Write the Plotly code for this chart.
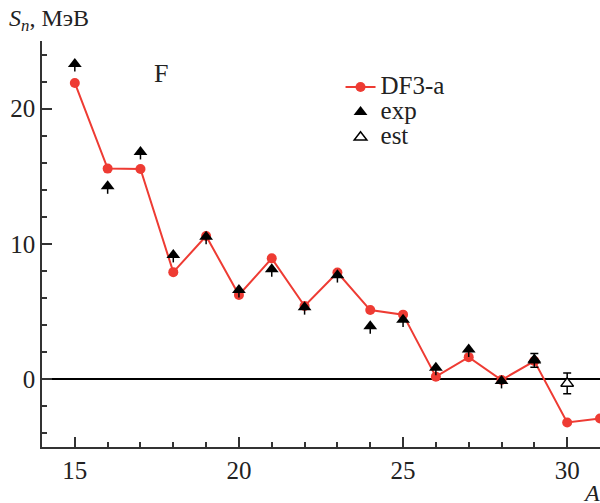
import plotly.graph_objects as go

# Data
A_calc = [15, 16, 17, 18, 19, 20, 21, 22, 23, 24, 25, 26, 27, 28, 29, 30, 31]
Sn_df3a = [21.9, 15.57, 15.54, 7.92, 10.59, 6.23, 8.94, 5.42, 7.89, 5.12, 4.78, 0.2, 1.64, -0.05, 1.35, -3.19, -2.9]

A_exp = [15, 16, 17, 18, 19, 20, 21, 22, 23, 24, 25, 26, 27, 28, 29]
Sn_exp = [23.3, 14.26, 16.8, 9.19, 10.54, 6.6, 8.13, 5.33, 7.7, 3.92, 4.41, 0.86, 2.2, -0.12, 1.47]
Sn_exp_err = [0.55, 0.55, 0.55, 0.55, 0.55, 0.55, 0.55, 0.55, 0.55, 0.55, 0.55, 0.55, 0.55, 0.55, 0.0]

A_exp_cap = [29]
Sn_exp_cap = [1.4]
Sn_exp_cap_err = [0.5]

A_est = [30]
Sn_est = [-0.3]
Sn_est_err = [0.76]

legend_names = ["DF3-a", "exp", "est"]

RED = "#ee3b33"
FONT = "Liberation Serif"
TXT = "#222"


def big(s):
    return '<span style="font-size:25px">' + s + '</span>'


fig = go.Figure()
fig.add_trace(go.Scatter(
    x=A_calc, y=Sn_df3a, mode="lines+markers", name=big(legend_names[0]),
    line=dict(color=RED, width=2),
    marker=dict(color=RED, size=10, symbol="circle"),
))
fig.add_trace(go.Scatter(
    x=A_exp, y=Sn_exp, mode="markers", name=big(legend_names[1]),
    marker=dict(color="black", size=12, symbol="triangle-up"),
    error_y=dict(type="data", symmetric=False, array=[0]*len(Sn_exp_err),
                 arrayminus=Sn_exp_err, color="black", thickness=1.5, width=0),
))
fig.add_trace(go.Scatter(
    x=A_exp_cap, y=Sn_exp_cap, mode="markers", showlegend=False,
    marker=dict(color="black", size=12, symbol="triangle-up"),
    error_y=dict(type="data", array=Sn_exp_cap_err, color="black", thickness=1.5, width=4),
))
fig.add_trace(go.Scatter(
    x=A_est, y=Sn_est, mode="markers", name=big(legend_names[2]),
    marker=dict(color="white", size=11, symbol="triangle-up",
                line=dict(color="black", width=1.5)),
    error_y=dict(type="data", array=Sn_est_err, color="black", thickness=1.5, width=4),
))

fig.update_layout(
    width=600, height=503,
    margin=dict(l=42, r=0, t=41, b=56),
    paper_bgcolor="white", plot_bgcolor="white",
    font=dict(family=FONT, size=24, color=TXT),
    showlegend=True,
    legend=dict(x=0.535, y=0.93, xanchor="left", yanchor="top",
                bgcolor="rgba(0,0,0,0)", font=dict(family=FONT, size=17, color=TXT),
                tracegroupgap=0),
    xaxis=dict(range=[14, 31], tick0=15, dtick=5, ticks="inside", ticklen=10,
               tickwidth=1.5, tickcolor="#333", showline=True, linecolor="#333",
               linewidth=1.5, showgrid=False, zeroline=False,
               minor=dict(dtick=1, ticks="inside", ticklen=5, tickcolor="#333", tickwidth=1.5),
               tickfont=dict(family=FONT, size=25, color=TXT)),
    yaxis=dict(range=[-5, 25], tick0=0, dtick=10, ticks="inside", ticklen=10,
               tickwidth=1.5, tickcolor="#333", showline=True, linecolor="#333",
               linewidth=1.5, showgrid=False, zeroline=True, zerolinecolor="black",
               zerolinewidth=2,
               minor=dict(dtick=2, ticks="inside", ticklen=5, tickcolor="#333", tickwidth=1.5),
               tickfont=dict(family=FONT, size=25, color=TXT)),
    annotations=[
        dict(text="<i>S</i><sub><i>n</i></sub>, МэВ", xref="paper", yref="paper",
             x=0, y=1, xshift=-35, yshift=21, xanchor="left", yanchor="middle",
             showarrow=False, font=dict(family=FONT, size=24, color=TXT)),
        dict(text="F", xref="x", yref="y", x=17.63, y=22.6, showarrow=False,
             font=dict(family=FONT, size=26, color=TXT)),
        dict(text="<i>A</i>", xref="paper", yref="paper", x=1, y=0, xanchor="right",
             yanchor="middle", yshift=-46, xshift=2, showarrow=False,
             font=dict(family=FONT, size=24, color=TXT)),
    ],
)

fig.write_html("out.html")
